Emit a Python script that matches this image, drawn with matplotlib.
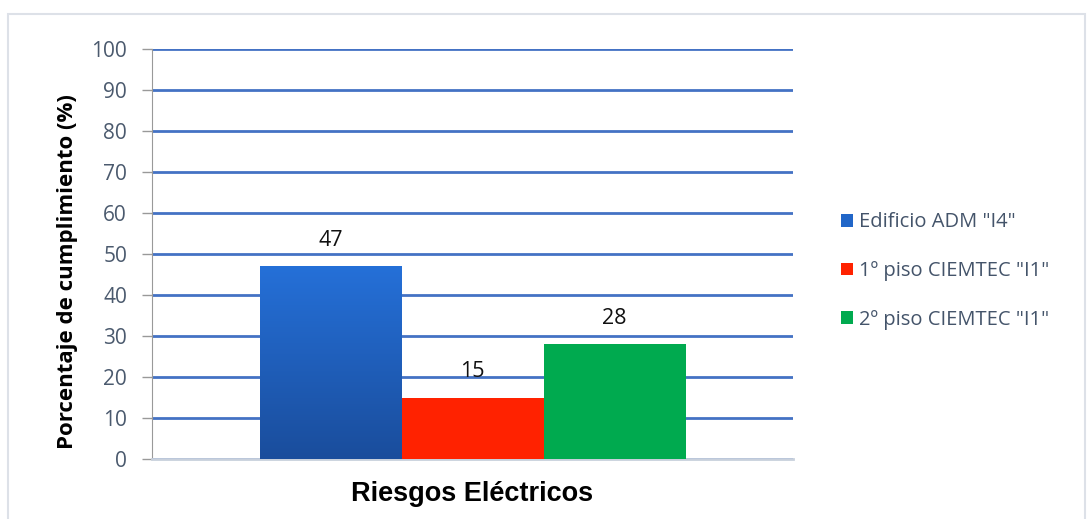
import matplotlib
matplotlib.use("Agg")
import matplotlib.pyplot as plt
import numpy as np
from matplotlib.patches import Rectangle
from matplotlib.colors import LinearSegmentedColormap

category = "Riesgos Eléctricos"
series = ['Edificio ADM "I4"', '1º piso CIEMTEC "I1"', '2º piso CIEMTEC "I1"']
values = [47, 15, 28]
colors = ["#2166c8", "#ff2200", "#00aa4f"]
yticks = [0, 10, 20, 30, 40, 50, 60, 70, 80, 90, 100]
ylabel = "Porcentaje de cumplimiento (%)"

fig = plt.figure(figsize=(10.89, 5.19), dpi=100)
# outer chart border
fig.patches.append(Rectangle((8/1089, -0.01), (1085-8)/1089, 1 - 14/519 + 0.01,
                             transform=fig.transFigure, fill=False,
                             edgecolor="#dde1e8", linewidth=1.5))

ax = fig.add_axes([152/1089, 1-459/519, (793-152)/1089, (459-49)/519])
width = 142/641
offsets = [-width, 0, width]
bars = []
for off, v, c, lab in zip(offsets, values, colors, series):
    b = ax.bar(off, v, width=width, color=c, label=lab, zorder=3)
    bars.append(b[0])

# gradient for first bar
cmap = LinearSegmentedColormap.from_list("g", ["#1a4d9c", "#2570d8"])
b0 = bars[0]
grad = np.linspace(0, 1, 256).reshape(-1, 1)
im = ax.imshow(grad, cmap=cmap, aspect="auto", origin="lower",
               extent=[b0.get_x(), b0.get_x() + b0.get_width(), 0, b0.get_height()],
               zorder=3.5)
im.set_clip_path(b0)

for off, v in zip(offsets, values):
    ax.text(off, v + 6.3, str(v), ha="center", va="center", fontsize=15.5,
            family="Open Sans", color="#111111", zorder=5)

ax.set_xlim(-0.5, 0.5)
ax.set_ylim(0, 100)
ax.set_yticks(yticks)
ax.set_xticks([])
ax.yaxis.grid(True, color="#4472c4", linewidth=2)
ax.set_axisbelow(True)
for t in ax.get_yticklabels():
    t.set_family("Open Sans")
    t.set_fontsize(15)
    t.set_color("#4b5a6e")
ax.tick_params(axis="y", direction="out", length=7, width=1, color="#999999", pad=11)
for s in ["top", "right"]:
    ax.spines[s].set_visible(False)
ax.spines["left"].set_color("#999999")
ax.spines["bottom"].set_color("#c8d0dc")
ax.spines["bottom"].set_linewidth(2)

ax.set_ylabel(ylabel, fontsize=16, fontweight="bold", family="Open Sans",
              color="#000000", va="center")
ax.yaxis.set_label_coords((68-152)/641, (459-272)/410)
ax.set_xlabel(category, fontsize=19.5, fontweight="bold", family="Liberation Sans",
              color="#000000", va="center")
ax.xaxis.set_label_coords(0.5, (459-494)/410)

leg = fig.legend(handles=bars, labels=series, loc="center left",
                 bbox_to_anchor=(823/1089, 1-271/519), frameon=False,
                 prop={"family": "Open Sans", "size": 14.5}, handlelength=0.6,
                 handleheight=0.6, handletextpad=0.3, labelspacing=1.42)
for t in leg.get_texts():
    t.set_color("#44546a")

fig.savefig("out.png", dpi=100)
